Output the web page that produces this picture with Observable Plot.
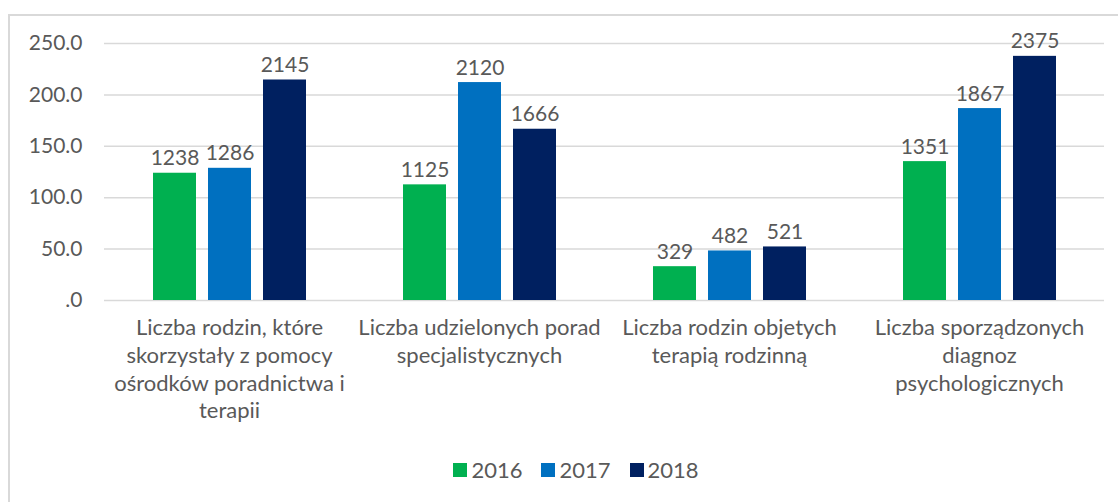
<!DOCTYPE html>
<html><head><meta charset="utf-8">
<script src="https://cdn.jsdelivr.net/npm/d3@7"></script>
<script src="https://cdn.jsdelivr.net/npm/@observablehq/plot@0.6"></script>
<style>
html,body{margin:0;padding:0;background:#fff;overflow:hidden;font-family:Lato,sans-serif;}
#frame{position:absolute;left:8px;top:14px;width:1120px;height:500px;border:2px solid #d9d9d9;background:#fff;}
#legend{box-sizing:border-box;width:1100px;padding-left:32px;display:flex;justify-content:center;align-items:center;gap:19px;font-size:22px;color:#595959;margin-top:10px;}
.item{display:flex;align-items:center;gap:4px;}
.sw{width:14px;height:14px;display:inline-block;}
</style></head><body>
<div id="frame"><div id="chart"></div><div id="legend"></div></div>
<script>
const categories = [
  "Liczba rodzin, które skorzystały z pomocy ośrodków poradnictwa i terapii",
  "Liczba udzielonych porad specjalistycznych",
  "Liczba rodzin objetych terapią rodzinną",
  "Liczba sporządzonych diagnoz psychologicznych"
];
const categoryLines = [
  "Liczba rodzin, które\nskorzystały z pomocy\nośrodków poradnictwa i\nterapii",
  "Liczba udzielonych porad\nspecjalistycznych",
  "Liczba rodzin objetych\nterapią rodzinną",
  "Liczba sporządzonych\ndiagnoz\npsychologicznych"
];
const years = ["2016", "2017", "2018"];
const values2016 = [1238, 1125, 329, 1351];
const values2017 = [1286, 2120, 482, 1867];
const values2018 = [2145, 1666, 521, 2375];
const yTicks = [0, 500, 1000, 1500, 2000, 2500];
const colors = ["#00B050", "#0070C0", "#002060"];

const series = [values2016, values2017, values2018];
const rows = [];
categories.forEach((c, i) => years.forEach((y, j) => rows.push({category: c, year: y, value: series[j][i]})));
const labelOf = new Map(categories.map((c, i) => [c, categoryLines[i]]));

const chart = Plot.plot({
  width: 1100, height: 430,
  marginLeft: 94, marginRight: 6, marginTop: 27, marginBottom: 146,
  style: {fontFamily: "Lato, sans-serif", fontSize: "21px", color: "#595959", background: "transparent"},
  fx: {domain: categories, padding: 0, axis: null},
  x: {domain: years, paddingInner: 0.22, paddingOuter: 0.88, axis: null},
  y: {domain: [0, 2500], ticks: yTicks, tickSize: 0, tickPadding: 22, label: null,
      tickFormat: d => d === 0 ? ".0" : (d / 10).toFixed(1)},
  color: {domain: years, range: colors},
  marks: [
    Plot.ruleY(yTicks, {stroke: "#d9d9d9", strokeWidth: 1.5}),
    Plot.barY(rows, {fx: "category", x: "year", y: "value", fill: "year"}),
    Plot.text(rows, {fx: "category", x: "year", y: "value", text: d => String(d.value),
      lineAnchor: "bottom", dy: -8, fill: "#595959", fontSize: 21}),
    Plot.text(categories, {fx: d => d, frameAnchor: "bottom", text: d => labelOf.get(d),
      lineAnchor: "top", dy: 15, lineHeight: 1.26, fill: "#595959", fontSize: 22})
  ]
});
document.getElementById("chart").appendChild(chart);

const legend = document.getElementById("legend");
years.forEach((y, i) => {
  const it = document.createElement("div");
  it.className = "item";
  it.innerHTML = `<span class="sw" style="background:${colors[i]}"></span><span>${y}</span>`;
  legend.appendChild(it);
});
</script>
</body></html>
